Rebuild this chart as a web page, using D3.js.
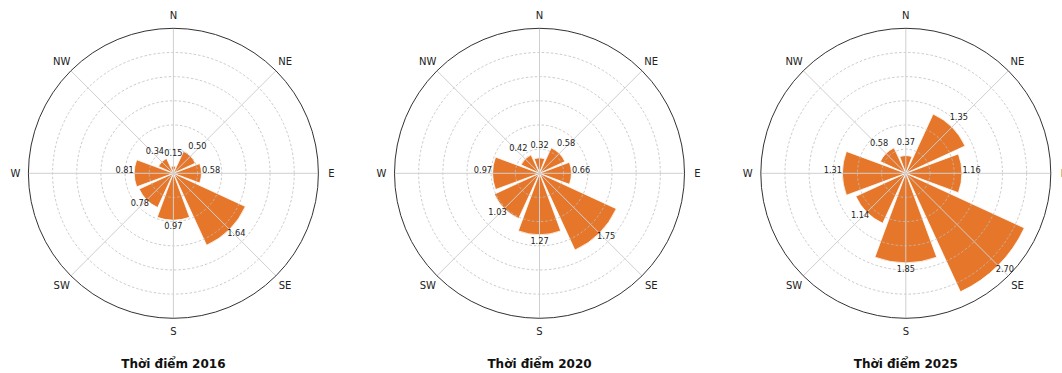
<!DOCTYPE html>
<html>
<head>
<meta charset="utf-8">
<script src="https://cdn.jsdelivr.net/npm/d3@7"></script>
<style>
  body { margin: 0; background: #fff; }
  text { font-family: "DejaVu Sans", sans-serif; }
</style>
</head>
<body>
<div id="chart"></div>
<script>
var svgWidth = 1062;
var svgHeight = 373;

// data
var directions = ["N", "NE", "E", "SE", "S", "SW", "W", "NW"];
var years = ["Thời điểm 2016", "Thời điểm 2020", "Thời điểm 2025"];
var values2016 = [0.15, 0.50, 0.58, 1.64, 0.97, 0.78, 0.81, 0.34];
var values2020 = [0.32, 0.58, 0.66, 1.75, 1.27, 1.03, 0.97, 0.42];
var values2025 = [0.37, 1.35, 1.16, 2.70, 1.85, 1.14, 1.31, 0.58];
var radialTicks = [0.5, 1.0, 1.5, 2.0, 2.5];
var rMax = 3.0;

var series = [values2016, values2020, values2025];

var outerR = 145;
var centerY = 173.3;
var centers = [173.4, 539.5, 905.8];

var svg = d3.select("#chart")
  .append("svg")
  .attr("width", svgWidth)
  .attr("height", svgHeight);

var rScale = d3.scaleLinear()
  .domain([0, rMax])
  .range([0, outerR]);

var angleScale = d3.scaleBand()
  .domain(directions)
  .range([-Math.PI / 8, 2 * Math.PI - Math.PI / 8])
  .paddingInner(0.1)
  .paddingOuter(0.05);

// angle of the centre of each direction
function dirAngle(d) {
  return angleScale(d) + angleScale.bandwidth() / 2;
}

var arc = d3.arc()
  .innerRadius(0)
  .outerRadius(d => rScale(d.value))
  .startAngle(d => angleScale(d.dir))
  .endAngle(d => angleScale(d.dir) + angleScale.bandwidth());

series.forEach(function(vals, i) {
  var g = svg.append("g")
    .attr("transform", `translate(${centers[i]}, ${centerY})`);

  var data = directions.map((d, j) => ({ dir: d, value: vals[j] }));

  // bars
  g.selectAll("path.bar")
    .data(data)
    .enter()
    .append("path")
    .attr("class", "bar")
    .attr("d", arc)
    .attr("fill", "#e6772a")
    .attr("stroke", "#fff")
    .attr("stroke-width", 0.8);

  // dashed rings
  g.selectAll("circle.ring")
    .data(radialTicks)
    .enter()
    .append("circle")
    .attr("class", "ring")
    .attr("r", d => rScale(d))
    .attr("fill", "none")
    .attr("stroke", "#bdbdbd")
    .attr("stroke-width", 0.8)
    .attr("stroke-dasharray", "2.5,2");

  // radial lines
  g.selectAll("line.spoke")
    .data(directions)
    .enter()
    .append("line")
    .attr("class", "spoke")
    .attr("x1", 0)
    .attr("y1", 0)
    .attr("x2", d => outerR * Math.sin(dirAngle(d)))
    .attr("y2", d => -outerR * Math.cos(dirAngle(d)))
    .attr("stroke", "#cfcfcf")
    .attr("stroke-width", 1);

  // outer circle
  g.append("circle")
    .attr("r", outerR)
    .attr("fill", "none")
    .attr("stroke", "#333")
    .attr("stroke-width", 1);

  // direction labels
  g.selectAll("text.dir")
    .data(directions)
    .enter()
    .append("text")
    .attr("class", "dir")
    .attr("x", d => (outerR + 13) * Math.sin(dirAngle(d)))
    .attr("y", d => -(outerR + 13) * Math.cos(dirAngle(d)))
    .attr("dy", "0.35em")
    .style("font-size", "10px")
    .style("text-anchor", "middle")
    .style("fill", "#222")
    .text(d => d);

  // value labels
  g.selectAll("text.val")
    .data(data)
    .enter()
    .append("text")
    .attr("class", "val")
    .attr("x", d => rScale(d.value + 0.2) * Math.sin(dirAngle(d.dir)))
    .attr("y", d => -rScale(d.value + 0.2) * Math.cos(dirAngle(d.dir)) - 3.5)
    .attr("dy", "0.35em")
    .style("font-size", "8.2px")
    .style("text-anchor", "middle")
    .style("fill", "#222")
    .text(d => d.value.toFixed(2));

  // title
  svg.append("text")
    .attr("x", centers[i])
    .attr("y", 368)
    .style("font-size", "12px")
    .style("font-weight", "bold")
    .style("text-anchor", "middle")
    .style("fill", "#111")
    .text(years[i]);
});
</script>
</body>
</html>
